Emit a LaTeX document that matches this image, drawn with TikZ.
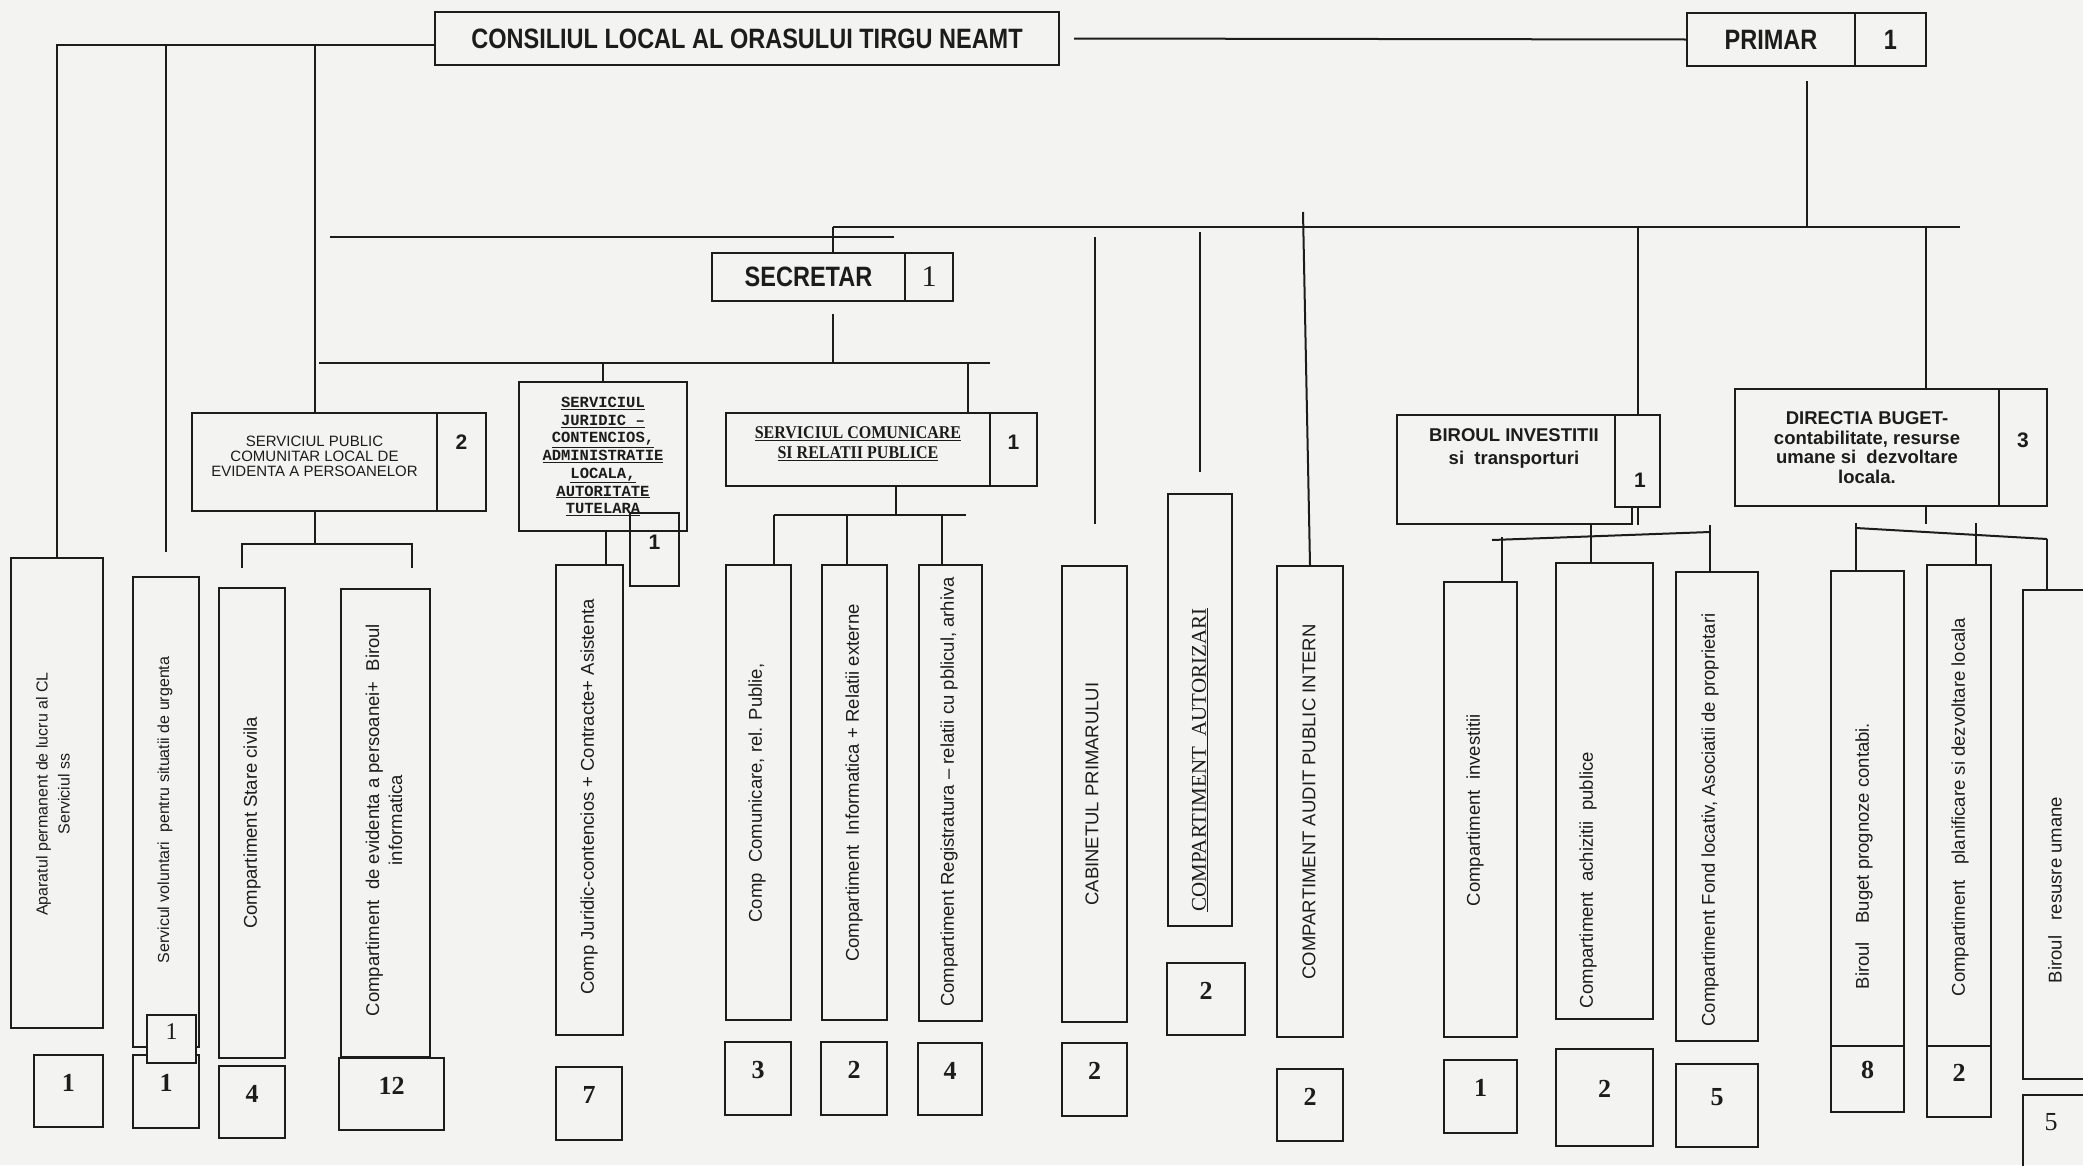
\documentclass[tikz,border=0pt]{standalone}
\usepackage{fontspec}
\setmainfont{Liberation Sans}
\newfontfamily\condsans[FakeStretch=0.84]{Liberation Sans}
\newfontfamily\condserif[FakeStretch=0.89]{Liberation Serif}
\newfontfamily\numserif{Liberation Serif}
\newfontfamily\monobold{Liberation Mono}
\usetikzlibrary{calc,fit}
\definecolor{paper}{RGB}{243,243,241}
\definecolor{ink}{RGB}{28,28,28}
\begin{document}
\begin{tikzpicture}[x=1pt,y=-1pt,color=ink,line width=2pt,
    box/.style={draw,inner sep=0pt},
    cnt/.style={box,font=\numserif\bfseries\fontsize{26}{26}\selectfont},
    head/.style={box,font=\condsans\bfseries\fontsize{28}{28}\selectfont},
    hnum/.style={font=\bfseries\fontsize{21}{21}\selectfont},
    vtext/.style={rotate=90,inner sep=0pt,align=center,font=\fontsize{18.5}{23}\selectfont},
    vsmall/.style={vtext,font=\fontsize{16}{22}\selectfont}]
      \fill[paper] (0,0) rectangle (2083,1165);
      \useasboundingbox (0,0) rectangle (2083,1165);

      \node[head,minimum width=624,minimum height=53] (cl) at (747,38.5) {CONSILIUL LOCAL AL ORASULUI TIRGU NEAMT};
      \node[head,minimum width=168,minimum height=53] (primar) at (1771,39.5) {PRIMAR};
      \node[head,minimum width=71,minimum height=53] (primarnr) at (1890.5,39.5) {1};
      \node[head,minimum width=193,minimum height=48] (secretar) at (808.5,277) {SECRETAR};
      \node[box,font=\numserif\fontsize{30}{30}\selectfont,minimum width=48,minimum height=48] (secnr) at (929,277) {1};

      \node[box,align=center,font=\fontsize{15}{15}\selectfont,fit={(192,413) (437,511)}] (sp)
        {SERVICIUL PUBLIC\\COMUNITAR LOCAL DE\\EVIDENTA A PERSOANELOR};
      \node[box,fit={(437,413) (486,511)}] (spnr) {};
      \node[hnum] (spnrt) at ([yshift=20pt]spnr.center) {2};
      \node[box,align=center,font=\monobold\bfseries\fontsize{15.5}{17.7}\selectfont,minimum width=168,minimum height=149] (jur) at (603,456.5)
        {\underline{SERVICIUL}\\\underline{JURIDIC –}\\\underline{CONTENCIOS,}\\\underline{ADMINISTRATIE}\\\underline{LOCALA,}\\\underline{AUTORITATE}\\\underline{TUTELARA}};
      \node[box,hnum,fit={(630,513) (679,586)}] (jurnr) {1};
      \node[box,align=center,font=\condserif\bfseries\fontsize{18}{20}\selectfont,fit={(726,413) (990,486)}] (sc)
        {\underline{SERVICIUL COMUNICARE}\\\underline{SI RELATII PUBLICE}};
      \node[box,hnum,fit={(990,413) (1037,486)}] (scnr) {1};
      \node[box,fit={(1397,415) (1632,524)}] (birou) {};
      \node[align=center,font=\bfseries\fontsize{18.5}{23}\selectfont] (biroutxt) at (1514,448) {BIROUL INVESTITII\\si~~transporturi};
      \node[box,fill=paper,fit={(1615,415) (1660,507)}] (bironr) {};
      \node[hnum] (bironrt) at (1640,480) {1};
      \node[box,align=center,font=\bfseries\fontsize{18.5}{19.5}\selectfont,minimum width=264,minimum height=117] (dir) at (1867,447.5)
        {DIRECTIA BUGET-\\contabilitate, resurse\\umane si~~dezvoltare\\locala.};
      \node[box,hnum,fit={(1999,389) (2047,506)}] (dirnr) {3};

      \node[box,fit={(11,558) (103,1028)}] (apar) {};
      \node[vsmall] (apartxt) at (53,794) {Aparatul permanent de lucru al CL\\Serviciul ss};
      \node[cnt,fit={(34,1055) (103,1127)}] (aparnr) {1};
      \node[box,fit={(133,577) (199,1047)}] (volu) {};
      \node[vsmall] (volutxt) at (165,810) {Servicul voluntari~~pentru situatii de urgenta};
      \node[cnt,fit={(133,1055) (199,1128)}] (volunr) {1};
      \node[box,fill=paper,font=\numserif\fontsize{24}{24}\selectfont,fit={(147,1015) (196,1063)}] (volusm) {1};
      \node[box,fit={(219,588) (285,1058)}] (stare) {};
      \node[vtext] (staretxt) at (252,823) {Compartiment Stare civila};
      \node[cnt,fit={(219,1066) (285,1138)}] (starenr) {4};
      \node[box,fit={(341,589) (430,1057)}] (evid) {};
      \node[vtext] (evidtxt) at (384,820) {Compartiment~~de evidenta a persoanei+~~Biroul\\informatica};
      \node[cnt,fit={(339,1058) (444,1130)}] (evidnr) {12};
      \node[box,fit={(556,565) (623,1035)}] (cjur) {};
      \node[vtext] (cjurtxt) at (589,797) {Comp Juridic-contencios + Contracte+ Asistenta};
      \node[cnt,fit={(556,1067) (622,1140)}] (cjurnr) {7};
      \node[box,fit={(726,565) (791,1020)}] (ccom) {};
      \node[vtext] (ccomtxt) at (757,793) {Comp~~Comunicare, rel. Publie,};
      \node[cnt,fit={(725,1042) (791,1115)}] (ccomnr) {3};
      \node[box,fit={(822,565) (887,1020)}] (cinf) {};
      \node[vtext] (cinftxt) at (854,783) {Compartiment~~Informatica + Relatii externe};
      \node[cnt,fit={(821,1042) (887,1115)}] (cinfnr) {2};
      \node[box,fit={(919,565) (982,1021)}] (creg) {};
      \node[vtext] (cregtxt) at (949,792) {Compartiment Registratura – relatii cu pblicul, arhiva};
      \node[cnt,fit={(918,1043) (982,1115)}] (cregnr) {4};
      \node[box,fit={(1062,566) (1127,1022)}] (cab) {};
      \node[vtext] (cabtxt) at (1092,794) {CABINETUL PRIMARULUI};
      \node[cnt,fit={(1062,1043) (1127,1116)}] (cabnr) {2};
      \node[box,fit={(1168,494) (1232,926)}] (aut) {};
      \node[vtext,font=\numserif\fontsize{21}{21}\selectfont] (auttxt) at (1200,760) {\underline{COMPARTIMENT~~AUTORIZARI}};
      \node[cnt,fit={(1167,963) (1245,1035)}] (autnr) {2};
      \node[box,fit={(1277,566) (1343,1037)}] (aud) {};
      \node[vtext] (audtxt) at (1309,802) {COMPARTIMENT AUDIT PUBLIC INTERN};
      \node[cnt,fit={(1277,1069) (1343,1141)}] (audnr) {2};
      \node[box,fit={(1444,582) (1517,1037)}] (cinv) {};
      \node[vtext] (cinvtxt) at (1475,810) {Compartiment~~investitii};
      \node[cnt,fit={(1444,1060) (1517,1133)}] (cinvnr) {1};
      \node[box,fit={(1556,563) (1653,1019)}] (cach) {};
      \node[vtext] (cachtxt) at (1588,880) {Compartiment~~achizitii~~publice};
      \node[cnt,fit={(1556,1049) (1653,1146)}] (cachnr) {2};
      \node[box,fit={(1676,572) (1758,1041)}] (cfond) {};
      \node[vtext] (cfondtxt) at (1710,820) {Compartiment Fond locativ, Asociatii de proprietari};
      \node[cnt,fit={(1676,1064) (1758,1147)}] (cfondnr) {5};
      \node[box,fit={(1831,571) (1904,1046)}] (bbug) {};
      \node[vtext] (bbugtxt) at (1864,856) {Biroul\quad Buget prognoze contabi.};
      \node[cnt,fit={(1831,1046) (1904,1112)}] (bbugnr) {8};
      \node[box,fit={(1927,565) (1991,1046)}] (cplan) {};
      \node[vtext] (cplantxt) at (1960,807) {Compartiment~~~planificare si dezvoltare locala};
      \node[cnt,fit={(1927,1046) (1991,1117)}] (cplannr) {2};
      \node[box,fit={(2023,590) (2100,1079)}] (bres) {};
      \node[vtext] (brestxt) at (2055,890) {Biroul~~~resusre umane};
      \node[box,fit={(2023,1095) (2100,1180)}] (bresnr) {};
      \node[font=\numserif\fontsize{26}{26}\selectfont] (bresnrt) at (2051,1122) {5};

      \begin{scope}
        \coordinate (clw) at ([yshift=-6.5pt]cl.west);
        \draw (clw) -| (apar.north);
        \draw (clw -| volu.north) -- ([yshift=24pt]volu.north);
        \draw (clw -| sp.north) -- (sp.north);
        \draw ([xshift=14pt]cl.east) -- (primar.west);

        \coordinate (secc) at ($(secretar.north west)!0.5!(secnr.north east)$);
        \coordinate (busl) at (secc |- 0,227);
        \coordinate (busr) at (1960,227);
        \coordinate (prc) at ($(primar.south west)!0.5!(primarnr.south east)$);
        \draw (busl) -- (busr);
        \draw (busl) -- (secc);
        \draw ([yshift=-14pt]prc) -- (prc |- busl);
        \coordinate (freel) at (330,237);
        \coordinate (freer) at (894,237);
        \draw (freel) -- (freer);

        \coordinate (secb) at ($(secretar.south west)!0.5!(secnr.south east)$);
        \coordinate (sbusl) at (319,363);
        \coordinate (sbusr) at (990,363);
        \coordinate (scin) at ([xshift=110pt]sc.north);
        \draw ([yshift=-12pt]secb) -- (secb |- sbusl);
        \draw (sbusl) -- (sbusr);
        \draw (jur.north |- sbusl) -- (jur.north);
        \draw (scin |- sbusl) -- (scin);

        \coordinate (cabin) at ([yshift=41pt]cab.north);
        \coordinate (autin) at ([yshift=21pt]aut.north);
        \coordinate (audtop) at (1303,212);
        \coordinate (dirin) at ([xshift=59pt]dir.north);
        \draw (cabin |- 0,237) -- (cabin);
        \draw (autin |- 0,232) -- (autin);
        \draw (audtop) -- (aud.north);
        \draw (bironr.north |- busr) -- (bironr.north);
        \draw (bironr.south) -- (bironr.south |- birou.south);
        \draw (dirin |- busr) -- (dirin);

        \coordinate (spj) at ([yshift=-32pt]sp.south);
        \coordinate (spl) at (242,568);
        \coordinate (spr) at (412,568);
        \draw (sp.south) -- (spj);
        \draw (spl) |- (spj) -| (spr);
        \coordinate (cjin) at ([xshift=16pt]cjur.north);
        \draw (cjin |- jur.south) -- (cjin);

        \coordinate (scj) at (896,515);
        \coordinate (scbl) at (774,515);
        \coordinate (scb2) at (847,515);
        \coordinate (scb3) at (942,515);
        \coordinate (scbr) at (966,515);
        \draw (scj |- sc.south) -- (scj);
        \draw (scbl) -- (scbr);
        \draw (scbl) -- (scbl |- ccom.north);
        \draw (scb2) -- (scb2 |- cinf.north);
        \draw (scb3) -- (scb3 |- creg.north);

        \coordinate (bil) at (1492,540);
        \coordinate (bir) at (1710,532);
        \coordinate (cinvin) at ([xshift=21.5pt]cinv.north);
        \coordinate (cachin) at ([xshift=-13.5pt]cach.north);
        \coordinate (cfondin) at ([xshift=-7pt]cfond.north);
        \draw (bil) -- (bir);
        \draw (cinvin) -- ++(0,-44);
        \draw (cachin |- birou.south) -- (cachin);
        \draw (cfondin |- birou.south) -- (cfondin);

        \coordinate (dil) at (1856,528);
        \coordinate (dirr) at (2047,539);
        \coordinate (bbugin) at ([xshift=-11.5pt]bbug.north);
        \coordinate (cplanin) at ([xshift=17pt]cplan.north);
        \draw (dirin |- dir.south) -- ++(0,17);
        \draw (dil) -- (dirr);
        \draw (dirr) -- (dirr |- bres.north);
        \draw (bbugin |- 0,523) -- (bbugin);
        \draw (cplanin |- 0,523) -- (cplanin);
      \end{scope}
    \end{tikzpicture}
\end{document}
